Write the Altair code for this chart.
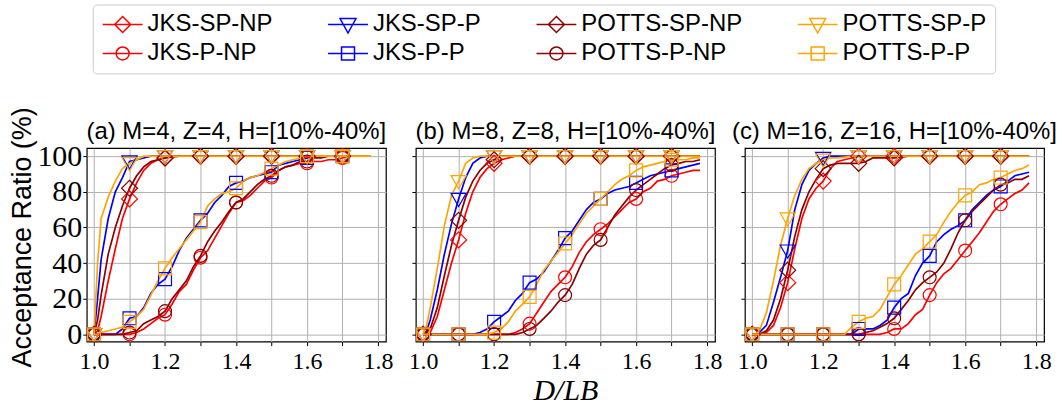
import altair as alt
import pandas as pd

# ---------------- data ----------------
SERIES = ["JKS-SP-NP", "JKS-P-NP", "JKS-SP-P", "JKS-P-P",
          "POTTS-SP-NP", "POTTS-P-NP", "POTTS-SP-P", "POTTS-P-P"]
SERIES_COLORS = ["#ff0000", "#ff0000", "#0000ff", "#0000ff",
                 "#8b0000", "#8b0000", "#ffa500", "#ffa500"]
SERIES_MARKERS = ["diamond", "circle", "triangle", "square",
                  "diamond", "circle", "triangle", "square"]

TITLES = ["(a) M=4, Z=4, H=[10%-40%]",
          "(b) M=8, Z=8, H=[10%-40%]",
          "(c) M=16, Z=16, H=[10%-40%]"]
Y_TITLE = "Acceptance Ratio (%)"
X_TITLE = "D/LB"

X = [1.00, 1.01, 1.02, 1.04, 1.06, 1.08, 1.10,
     1.12, 1.14, 1.16, 1.18, 1.20,
     1.22, 1.24, 1.26, 1.28, 1.30,
     1.32, 1.34, 1.36, 1.38, 1.40,
     1.42, 1.44, 1.46, 1.48, 1.50,
     1.52, 1.54, 1.56, 1.58, 1.60,
     1.62, 1.64, 1.66, 1.68, 1.70,
     1.72, 1.74, 1.76, 1.78]

XTICKS = [1.0, 1.1, 1.2, 1.3, 1.4, 1.5, 1.6, 1.7, 1.8]
YTICKS = [0, 20, 40, 60, 80, 100]

# ---- panel (a) ----
A_JKS_SP_NP = [0, 2, 10, 30, 48, 65, 76, 85, 92, 96, 98, 99, 99.5, 100, 100, 100, 100,
               100, 100, 100, 100, 100, 100, 100, 100, 100, 100, 100, 100, 100, 100, 100,
               100, 100, 100, 100, 100, 100, 100, 100, 100]
A_JKS_P_NP = [0, 0, 0, 0, 0, 0, 0, 1, 3, 6, 9, 11, 17, 24, 28, 36, 43,
              47, 54, 61, 68, 74, 75, 78, 82, 86, 88, 92, 94, 95, 96, 96,
              97, 97, 98, 98, 99, 100, 100, 100, 100]
A_JKS_SP_P = [0, 20, 42, 65, 80, 88, 97, 98, 99, 100, 100, 100, 100, 100, 100, 100, 100,
              100, 100, 100, 100, 100, 100, 100, 100, 100, 100, 100, 100, 100, 100, 100,
              100, 100, 100, 100, 100, 100, 100, 100, 100]
A_JKS_P_P = [0, 0, 0, 0, 0, 3, 9, 10, 15, 23, 28, 31, 38, 47, 54, 59, 64,
             68, 74, 78, 83, 85, 86, 88, 89, 90, 91, 95, 96, 97, 98, 99,
             100, 100, 100, 100, 100, 100, 100, 100, 100]
A_POTTS_SP_NP = [0, 8, 22, 45, 60, 72, 82, 89, 94, 97, 98, 99, 100, 100, 100, 100, 100,
                 100, 100, 100, 100, 100, 100, 100, 100, 100, 100, 100, 100, 100, 100, 100,
                 100, 100, 100, 100, 100, 100, 100, 100, 100]
A_POTTS_P_NP = [0, 0, 0, 0, 0, 0, 1, 2, 6, 8, 10, 13, 20, 25, 30, 38, 44,
                52, 58, 63, 69, 74, 76, 80, 84, 87, 89, 92, 94, 95, 97, 97,
                99, 99, 100, 100, 100, 100, 100, 100, 100]
A_POTTS_SP_P = [0, 40, 65, 77, 86, 93, 96, 98, 100, 100, 100, 100, 100, 100, 100, 100, 100,
                100, 100, 100, 100, 100, 100, 100, 100, 100, 100, 100, 100, 100, 100, 100,
                100, 100, 100, 100, 100, 100, 100, 100, 100]
A_POTTS_P_P = [0, 0, 1, 2, 3, 4, 7, 10, 14, 22, 30, 37, 43, 48, 53, 58, 63,
               72, 76, 79, 80, 82, 86, 88, 89, 91, 93, 95, 97, 98, 99, 100,
               100, 100, 100, 100, 100, 100, 100, 100, 100]

# ---- panel (b) ----
B_JKS_SP_NP = [0, 0, 1, 10, 25, 40, 53, 68, 80, 88, 93, 96, 98, 99, 100, 100, 100,
               100, 100, 100, 100, 100, 100, 100, 100, 100, 100, 100, 100, 100, 100, 100,
               100, 100, 100, 100, 100, 100, 100, 100, 100]
B_JKS_P_NP = [0, 0, 0, 0, 0, 0, 0, 0, 0, 0, 0, 0, 0, 0, 1, 3, 6,
              12, 18, 24, 28, 32, 38, 46, 52, 56, 59, 62, 66, 70, 74, 76,
              80, 82, 86, 87, 89, 90, 91, 92, 92]
B_JKS_SP_P = [0, 2, 8, 25, 45, 62, 76, 88, 96, 99, 100, 100, 100, 100, 100, 100, 100,
              100, 100, 100, 100, 100, 100, 100, 100, 100, 100, 100, 100, 100, 100, 100,
              100, 100, 100, 100, 100, 100, 100, 100, 100]
B_JKS_P_P = [0, 0, 0, 0, 0, 0, 0, 0, 0, 1, 3, 7, 10, 13, 19, 23, 29,
             31, 35, 41, 47, 54, 58, 64, 70, 74, 76, 79, 81, 82, 83, 85,
             87, 89, 90, 91, 92, 93, 94, 95, 96]
B_POTTS_SP_NP = [0, 1, 3, 15, 33, 50, 64, 77, 86, 92, 96, 98, 100, 100, 100, 100, 100,
                 100, 100, 100, 100, 100, 100, 100, 100, 100, 100, 100, 100, 100, 100, 100,
                 100, 100, 100, 100, 100, 100, 100, 100, 100]
B_POTTS_P_NP = [0, 0, 0, 0, 0, 0, 0, 0, 0, 0, 0, 0, 0, 0, 0, 1, 3,
                5, 9, 13, 18, 22, 28, 37, 45, 50, 53, 60, 67, 72, 77, 81,
                84, 87, 90, 93, 95, 96, 97, 97, 98]
B_POTTS_SP_P = [0, 5, 15, 37, 61, 78, 86, 96, 99, 100, 100, 100, 100, 100, 100, 100, 100,
                100, 100, 100, 100, 100, 100, 100, 100, 100, 100, 100, 100, 100, 100, 100,
                100, 100, 100, 100, 100, 100, 100, 100, 100]
B_POTTS_P_P = [0, 0, 0, 0, 0, 0, 0, 0, 0, 0, 0, 1, 3, 7, 13, 17, 21,
               28, 36, 41, 46, 51, 56, 62, 68, 72, 76, 80, 84, 87, 89, 92,
               94, 95, 96, 97, 98, 98, 98, 99, 99]

# ---- panel (c) ----
C_JKS_SP_NP = [0, 0, 0, 1, 5, 15, 29, 48, 65, 76, 82, 86, 93, 97, 98, 99, 100,
               100, 100, 100, 100, 100, 100, 100, 100, 100, 100, 100, 100, 100, 100, 100,
               100, 100, 100, 100, 100, 100, 100, 100, 100]
C_JKS_P_NP = [0, 0, 0, 0, 0, 0, 0, 0, 0, 0, 0, 0, 0, 0, 0, 0, 0,
              0, 0, 0, 1, 3, 3, 6, 11, 14, 22, 29, 34, 37, 42, 47,
              52, 57, 63, 69, 73, 76, 79, 81, 85]
C_JKS_SP_P = [0, 0, 1, 5, 18, 32, 47, 70, 84, 92, 96, 99, 100, 100, 100, 100, 100,
              100, 100, 100, 100, 100, 100, 100, 100, 100, 100, 100, 100, 100, 100, 100,
              100, 100, 100, 100, 100, 100, 100, 100, 100]
C_JKS_P_P = [0, 0, 0, 0, 0, 0, 0, 0, 0, 0, 0, 0, 0, 0, 0, 0, 3,
             3, 3, 5, 8, 15, 20, 23, 33, 40, 44, 52, 56, 59, 61, 64,
             70, 74, 78, 81, 83, 86, 89, 90, 91]
C_POTTS_SP_NP = [0, 0, 0, 2, 8, 20, 36, 55, 70, 80, 87, 93, 95, 96, 96, 96, 96,
                 97, 99, 99, 99, 99, 99.5, 100, 100, 100, 100, 100, 100, 100, 100, 100,
                 100, 100, 100, 100, 100, 100, 100, 100, 100]
C_POTTS_P_NP = [0, 0, 0, 0, 0, 0, 0, 0, 0, 0, 0, 0, 0, 0, 0, 0, 0,
                1, 2, 4, 6, 9, 14, 19, 25, 29, 32, 35, 40, 48, 57, 64,
                69, 73, 77, 81, 84, 85, 87, 87, 89]
C_POTTS_SP_P = [0, 0, 2, 12, 30, 50, 65, 78, 87, 93, 96, 98, 99, 99, 99.5, 100, 100,
                100, 100, 100, 100, 100, 100, 100, 100, 100, 100, 100, 100, 100, 100, 100,
                100, 100, 100, 100, 100, 100, 100, 100, 100]
C_POTTS_P_P = [0, 0, 0, 0, 0, 0, 0, 0, 0, 0, 0, 0, 0, 0, 0, 4, 7,
               9, 10, 14, 21, 28, 33, 39, 45, 48, 52, 56, 63, 69, 74, 78,
               80, 84, 85, 87, 88, 90, 92, 93, 95]

PANELS = [
    [A_JKS_SP_NP, A_JKS_P_NP, A_JKS_SP_P, A_JKS_P_P,
     A_POTTS_SP_NP, A_POTTS_P_NP, A_POTTS_SP_P, A_POTTS_P_P],
    [B_JKS_SP_NP, B_JKS_P_NP, B_JKS_SP_P, B_JKS_P_P,
     B_POTTS_SP_NP, B_POTTS_P_NP, B_POTTS_SP_P, B_POTTS_P_P],
    [C_JKS_SP_NP, C_JKS_P_NP, C_JKS_SP_P, C_JKS_P_P,
     C_POTTS_SP_NP, C_POTTS_P_NP, C_POTTS_SP_P, C_POTTS_P_P],
]

# ---------------- styling ----------------
SANS = "Liberation Sans"
SERIF = "Liberation Serif"

# marker outlines (unit = 8 px with size 256)
PLOT_PATHS = {
    "diamond": "M0,-1L1,0L0,1L-1,0Z",
    "triangle": "M-0.95,-0.7L0.95,-0.7L0,0.95Z",
    "circle": "M0.81,0A0.81,0.81,0,1,1,-0.81,0A0.81,0.81,0,1,1,0.81,0Z",
    "square": "M-0.81,-0.81H0.81V0.81H-0.81Z",
}
# legend handles: line + marker (unit = 10 px with symbol size 400)
LEGEND_PATHS = {
    "diamond": "M-1,0H3M1,-0.8L1.8,0L1,0.8L0.2,0Z",
    "triangle": "M-1,0H3M0.2,-0.6L1.8,-0.6L1,0.85Z",
    "circle": "M-1,0H3M1.65,0A0.65,0.65,0,1,1,0.35,0A0.65,0.65,0,1,1,1.65,0Z",
    "square": "M-1,0H3M0.35,-0.65H1.65V0.65H0.35Z",
}

XDOM = [0.9795, 1.8222]
YDOM = [-4.1, 104.5]


def panel_df(series_values):
    rows = []
    for name, vals in zip(SERIES, series_values):
        assert len(vals) == len(X), (name, len(vals))
        for x, v in zip(X, vals):
            rows.append({"x": x, "y": v, "series": name})
    return pd.DataFrame(rows)


def make_panel(idx):
    df = panel_df(PANELS[idx])
    first = idx == 0
    middle = idx == 1
    color = alt.Color("series:N",
                      scale=alt.Scale(domain=SERIES, range=SERIES_COLORS),
                      legend=None)
    shape = alt.Shape("series:N",
                      scale=alt.Scale(domain=SERIES,
                                      range=[PLOT_PATHS[m] for m in SERIES_MARKERS]),
                      legend=None)
    x_axis = alt.Axis(values=XTICKS, grid=True, tickSize=4,
                      labelExpr="abs(datum.value*5 - round(datum.value*5)) < 0.01 ? format(datum.value, '.1f') : ''",
                      labelFont=SERIF, labelFontSize=24, labelPadding=4,
                      labelFlush=False, labelOverlap=False,
                      title=X_TITLE if middle else None,
                      titleFont=SERIF, titleFontStyle="italic", titleFontSize=30,
                      titleFontWeight="normal", titlePadding=2)
    y_axis = alt.Axis(values=YTICKS, grid=True, tickSize=4, labels=first,
                      labelFont=SERIF, labelFontSize=30, labelPadding=1,
                      labelFlush=False,
                      title=Y_TITLE if first else None,
                      titleFont=SANS, titleFontSize=27, titleFontWeight="normal",
                      titlePadding=0, titleY=89)
    xenc = alt.X("x:Q", scale=alt.Scale(domain=XDOM, nice=False, zero=False), axis=x_axis)
    yenc = alt.Y("y:Q", scale=alt.Scale(domain=YDOM, nice=False, zero=False), axis=y_axis)
    base = alt.Chart(df)
    lines = base.mark_line(strokeWidth=1.7, clip=True).encode(x=xenc, y=yenc, color=color)
    pts = base.transform_filter(
        "abs(datum.x*10 - round(datum.x*10)) < 0.001 && datum.x < 1.75"
    ).mark_point(filled=False, size=256, strokeWidth=1.2, opacity=1, clip=True).encode(
        x=xenc, y=yenc, color=color, shape=shape)
    # the long y-axis title of panel (a) lifts its header; dy brings it back in line
    title = alt.TitleParams(text=TITLES[idx], font=SANS, fontSize=24,
                            fontWeight="normal", offset=4, anchor="middle",
                            frame="group", color="black", dy=41.5 if first else 0)
    return alt.layer(lines, pts).properties(width=300, height=194, title=title)


# ---------------- legend ----------------
LEGEND_SHAPES = [LEGEND_PATHS[m] for m in SERIES_MARKERS]

LEG = dict(title=None, orient="none", legendX=6, legendY=0, columns=4,
           symbolSize=400, symbolStrokeWidth=1.5, symbolOpacity=1,
           symbolFillColor="transparent",
           labelFont=SANS, labelFontSize=24, labelColor="black", labelOffset=23,
           labelLimit=300, columnPadding=52, rowPadding=5, padding=8,
           strokeColor="#cccccc", cornerRadius=4, fillColor="white")

legend_df = pd.DataFrame({"series": SERIES})
legend_chart = alt.Chart(legend_df).mark_point(filled=False, clip=True, opacity=1).encode(
    x=alt.value(-50), y=alt.value(-50),
    color=alt.Color("series:N", scale=alt.Scale(domain=SERIES, range=SERIES_COLORS),
                    legend=alt.Legend(**LEG)),
    shape=alt.Shape("series:N", scale=alt.Scale(domain=SERIES, range=LEGEND_SHAPES),
                    legend=alt.Legend(**LEG)),
).properties(width=1, height=1, view=alt.ViewBackground(stroke="transparent"))

panels = alt.hconcat(make_panel(0), make_panel(1), make_panel(2),
                     spacing=30, bounds="flush")

chart = alt.vconcat(legend_chart, panels, spacing=143, bounds="flush").resolve_scale(
    color="independent", shape="independent"
).properties(
    padding={"left": 8, "top": 2, "right": 4, "bottom": 4}
).configure_view(
    stroke="black", strokeWidth=1.2
).configure_axis(
    domain=False, gridColor="#b0b0b0", gridWidth=1, gridOpacity=1,
    tickColor="black", tickWidth=1, labelColor="black", titleColor="black"
)

chart.save("out.html", embed_options={"renderer": "svg", "actions": False})
